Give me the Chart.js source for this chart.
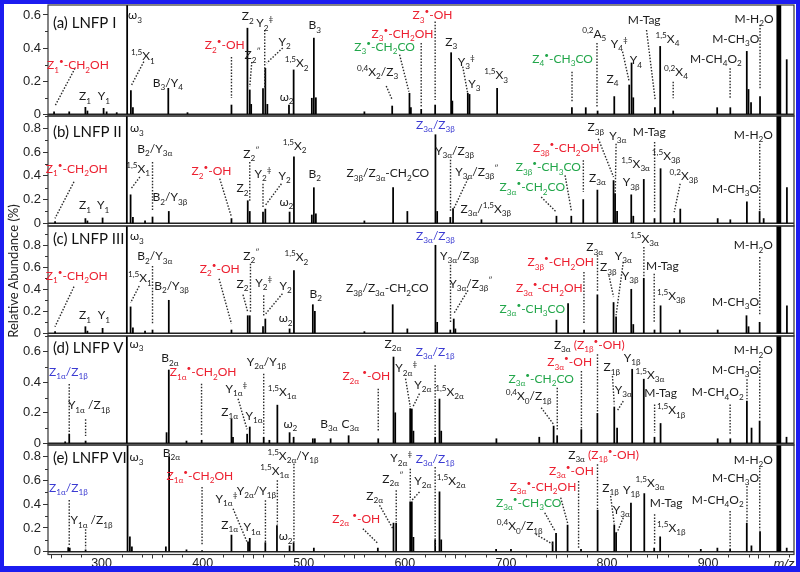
<!DOCTYPE html>
<html><head><meta charset="utf-8">
<script src="https://cdn.jsdelivr.net/npm/chart.js@4/dist/chart.umd.min.js"></script>
<style>
html,body{margin:0;padding:0;background:#fff;}
#wrap{position:relative;width:800px;height:572px;overflow:hidden;background:#fff;}
#wrap canvas{position:absolute;left:0;}
#frame{position:absolute;left:0;top:0;width:800px;height:572px;box-sizing:border-box;border-style:solid;border-color:#1c1cf0;border-width:4px 4px 6px 4px;pointer-events:none;}
#ytitle{position:absolute;left:13px;top:271px;transform:translate(-50%,-50%) rotate(-90deg);font:13px Lato, sans-serif;white-space:nowrap;color:#222;}
</style></head>
<body>
<div id="wrap">
<canvas id="pa" width="800" height="131" style="top:-5px"></canvas>
<canvas id="pb" width="800" height="130" style="top:106px"></canvas>
<canvas id="pc" width="800" height="130" style="top:216px"></canvas>
<canvas id="pd" width="800" height="129" style="top:326px"></canvas>
<canvas id="pe" width="800" height="137" style="top:435px"></canvas>
<div id="ytitle">Relative Abundance (%)</div>
<div id="frame"></div>
</div>
<script>
// ---------- DATA: peaks [m/z, relative abundance] ----------
const peaksA = [[253,0.015],[268,0.015],[284,0.042],[286,0.02],[302,0.036],[305,0.015],[315,0.01],[325.3,3],[329,0.143],[331,0.04],[366,0.157],[385,0.01],[428.5,0.056],[444.3,0.52],[446.6,0.147],[448,0.06],[459.7,0.155],[462,0.278],[464,0.06],[485.4,0.056],[490,0.268],[508,0.097],[510,0.46],[512,0.1],[560,0.015],[587.5,0.05],[604.6,0.127],[606,0.04],[616.2,0.03],[630,0.056],[645.8,0.372],[647,0.08],[662.3,0.127],[664,0.12],[691.3,0.157],[765.3,0.04],[779,0.04],[790.7,0.02],[807.2,0.107],[822,0.177],[824.3,0.31],[826,0.1],[847.4,0.04],[852.6,0.41],[865.5,0.02],[909,0.04],[922,0.04],[938.3,0.38],[940,0.15],[942.5,0.07],[951.4,0.107],[968.5,3],[969.5,3],[970.5,3],[971.5,3],[977.8,0.33]];
const peaksB = [[254,0.015],[284,0.04],[286,0.02],[301,0.045],[325,3],[328.7,0.24],[331,0.05],[343,0.02],[350.4,0.053],[366.5,0.1],[428.5,0.04],[444.6,0.19],[446.6,0.1],[459.7,0.095],[462,0.12],[486,0.095],[490.3,0.56],[508,0.07],[510,0.3],[512,0.08],[560,0.02],[588.4,0.3],[602.5,0.1],[630.3,0.746],[632,0.1],[645,0.05],[647.7,0.123],[675.8,0.03],[750,0.06],[764.7,0.06],[776.5,0.2],[790.5,0.28],[806.5,0.36],[808,0.25],[810,0.1],[824,0.24],[826,0.06],[836.4,0.37],[847,0.04],[853,0.46],[866.5,0.04],[872.5,0.12],[909.5,0.04],[922,0.03],[938.4,0.18],[951,0.1],[955,0.04],[968.5,3],[969.5,3],[970.5,3],[971.5,3],[978,0.3]];
const peaksC = [[254,0.015],[284,0.06],[286,0.02],[301,0.045],[325,3],[328.7,0.24],[331,0.05],[343,0.02],[350.4,0.03],[366.5,0.3],[428.5,0.03],[444.6,0.16],[446.6,0.16],[459.7,0.06],[462,0.13],[486,0.04],[490.3,0.57],[509,0.26],[511,0.2],[560,0.015],[588,0.26],[602.5,0.04],[630.3,0.8],[632,0.1],[645,0.03],[648.4,0.13],[650,0.04],[750,0.12],[761.5,0.27],[777.3,0.03],[790.5,0.35],[806.5,0.28],[809,0.15],[824,0.4],[826,0.08],[836.4,0.5],[847,0.03],[853,0.25],[872,0.03],[909.5,0.03],[938,0.16],[940,0.06],[951,0.1],[968.5,3],[969.5,3],[970.5,3],[971.5,3],[978,0.25]];
const peaksD = [[264,0.01],[268,0.06],[284.2,0.015],[325,3],[364.3,0.07],[366.5,0.48],[384,0.015],[399,0.02],[428.5,0.157],[430,0.04],[444,0.06],[446.6,0.107],[460.4,0.04],[466,0.02],[473.9,0.25],[486,0.07],[490,0.04],[509,0.03],[511,0.03],[526.6,0.03],[544.4,0.05],[573.7,0.03],[588.8,0.565],[590.5,0.2],[605.3,0.227],[606.9,0.225],[608.5,0.08],[630,0.04],[634.3,0.29],[636,0.08],[690.6,0.03],[733,0.04],[747.2,0.113],[750.7,0.05],[774.6,0.09],[790.5,0.196],[807.2,0.238],[810,0.1],[824.9,0.485],[836.4,0.42],[847,0.04],[853,0.13],[909.5,0.03],[922,0.03],[938.4,0.277],[943,0.1],[951,0.146],[968.5,3],[969.5,3],[970.5,3],[971.5,3],[977.6,0.04]];
const peaksE = [[267,0.034],[268.5,0.03],[284.2,0.015],[325.7,3],[328,0.126],[330,0.04],[363.6,0.04],[366.8,0.8],[384,0.015],[399.4,0.01],[428.5,0.14],[444.9,0.084],[446.6,0.113],[462,0.076],[473.5,0.22],[486,0.05],[490,0.076],[510,0.03],[573.3,0.03],[588.8,0.24],[591.4,0.24],[605.3,0.42],[606.9,0.42],[608.5,0.12],[630,0.1],[634.3,0.505],[636,0.1],[690.3,0.02],[705,0.02],[746.2,0.084],[749.6,0.155],[761,0.225],[774.3,0.02],[790.7,0.35],[807.2,0.225],[809,0.16],[823.7,0.41],[836.9,0.49],[846.7,0.03],[852.6,0.126],[892.8,0.02],[909.2,0.03],[921.8,0.02],[938.3,0.24],[942.9,0.05],[951.4,0.17],[968.5,3],[969.5,3],[970.5,3],[971.5,3],[977.8,0.03]];

// tick labels / titles
const xTickStep = 100;
const yTickStep = 0.2;
const panelTitles = ['(a) LNFP I','(b) LNFP II','(c) LNFP III','(d) LNFP V','(e) LNFP VI'];

// ---------- ANNOTATIONS: [text, colour, m/z, abundance] and leaders [mz1, v1, mz2, v2] ----------
const labelsA = [['Z_{1}^{•}-CH_{2}OH','r',276.6,0.298],['Z_{1}','k',283.6,0.111],['Y_{1}','k',302.3,0.111],['ω_{3}','k',333,0.600],['^{1,5}X_{1}','k',340.9,0.352],['B_{3}/Y_{4}','k',365.6,0.191],['Z_{2}^{•}-OH','r',421.9,0.419],['Z_{2}','k',444.6,0.594],['Y_{2}^{‡}','k',461.4,0.552],['Y_{2}','k',481.2,0.439],['Z_{2}^{″}','k',449.5,0.358],['^{1,5}X_{2}','k',493,0.310],['ω_{2}','k',483.1,0.106],['B_{3}','k',510.8,0.540],['^{0,4}X_{2}/Z_{3}','k',573,0.257],['Z_{3}^{•}-OH','r',627.4,0.600],['Z_{3}^{•}-CH_{2}OH','r',597.7,0.489],['Z_{3}^{•}-CH_{2}CO','g',580,0.409],['Z_{3}','k',645.9,0.439],['Y_{3}^{‡}','k',660.7,0.318],['Y_{3}','k',668.8,0.187],['^{1,5}X_{3}','k',690.3,0.237],['Z_{4}^{•}-CH_{3}CO','g',756.1,0.338],['^{0,2}A_{5}','k',787.4,0.489],['Y_{4}^{‡}','k',812.1,0.429],['Y_{4}','k',828.6,0.328],['Z_{4}','k',805.5,0.218],['M-Tag','k',836.8,0.570],['^{1,5}X_{4}','k',859.8,0.459],['^{0,2}X_{4}','k',868.2,0.257],['M-CH_{4}O_{2}','k',907.7,0.338],['M-CH_{3}O','k',927.4,0.459],['M-H_{2}O','k',945.5,0.580]];
const leadersA = [[273.7,0.278,253.9,0.050],[341.8,0.318,329.7,0.177],[428.5,0.346,428.5,0.098],[461.4,0.509,461.4,0.159],[479.2,0.401,463.4,0.310],[448.6,0.316,446.6,0.165],[581.6,0.171,587.6,0.086],[630,0.560,630,0.086],[616.2,0.431,616.2,0.038],[594.8,0.36,604,0.137],[657.3,0.288,662.2,0.127],[765.4,0.257,765.4,0.076],[790.1,0.431,790.1,0.046],[815.4,0.378,822,0.197],[839.1,0.509,847.7,0.086],[865.5,0.197,865.5,0.097],[921.8,0.278,921.8,0.097],[951.4,0.540,951.4,0.147]];

const labelsB = [['Z_{1}^{•}-CH_{2}OH','r',275.4,0.463],['Z_{1}','k',283.6,0.154],['Y_{1}','k',301.6,0.154],['ω_{3}','k',334.9,0.803],['B_{2}/Y_{3α}','k',352.7,0.628],['^{1,5}X_{1}','k',336.2,0.460],['B_{2}/Y_{3β}','k',367.5,0.221],['Z_{2}^{•}-OH','r',408.7,0.440],['Z_{2}^{″}','k',448.3,0.586],['Z_{2}','k',439.4,0.297],['Y_{2}^{‡}','k',459.7,0.418],['Y_{2}','k',481.2,0.404],['ω_{2}','k',482.8,0.185],['^{1,5}X_{2}','k',491,0.657],['B_{2}','k',510.8,0.418],['Z_{3β}/Z_{3α}-CH_{2}CO','k',583.2,0.424],['Z_{3α}/Z_{3β}','b',630.3,0.830],['Y_{3α}/Z_{3β}','k',649.1,0.615],['Y_{3α}/Z_{3β}^{″}','k',671.3,0.438],['Z_{3α}/^{1,5}X_{3β}','k',680.1,0.123],['Z_{3β}^{•}-CH_{2}OH','r',759.6,0.634],['Z_{3β}^{•}-CH_{3}CO','g',742,0.474],['Z_{3α}^{•}-CH_{2}CO','g',726.1,0.306],['Z_{3β}','k',788.8,0.811],['Y_{3α}','k',810.8,0.741],['Z_{3α}','k',790.6,0.384],['M-Tag','k',841.8,0.769],['^{1,5}X_{3α}','k',828.3,0.502],['Y_{3β}','k',824,0.348],['^{1,5}X_{3β}','k',858.4,0.573],['^{0,2}X_{3β}','k',876,0.404],['M-CH_{3}O','k',927.1,0.291],['M-H_{2}O','k',944.8,0.746]];
const leadersB = [[272.7,0.350,253.9,0.042],[337.9,0.390,328.7,0.286],[350.4,0.516,350.4,0.101],[416.9,0.376,428.5,0.053],[446.6,0.516,446.6,0.179],[459.7,0.333,459.7,0.137],[477.9,0.333,462.1,0.152],[645.2,0.536,645.2,0.095],[662.5,0.376,648.4,0.123],[776.6,0.531,776.6,0.264],[758.5,0.404,764.7,0.109],[734.9,0.221,749.9,0.095],[791.4,0.712,806.5,0.390],[809,0.670,808.2,0.264],[847.1,0.685,847.1,0.095],[872.4,0.333,866.5,0.095],[951.1,0.670,951.1,0.109]];

const labelsC = [['Z_{1}^{•}-CH_{2}OH','r',275.4,0.524],['Z_{1}','k',283.6,0.166],['Y_{1}','k',302.3,0.166],['ω_{3}','k',334.9,0.885],['B_{2}/Y_{3α}','k',352.7,0.703],['^{1,5}X_{1}','k',337.9,0.503],['B_{2}/Y_{3β}','k',369.2,0.436],['Z_{2}^{•}-OH','r',416.9,0.587],['Z_{2}^{″}','k',448.3,0.709],['Z_{2}','k',439.4,0.451],['Y_{2}^{‡}','k',460.4,0.460],['Y_{2}','k',482.1,0.436],['ω_{2}','k',482.1,0.139],['^{1,5}X_{2}','k',492.7,0.694],['B_{2}','k',511.8,0.360],['Z_{3β}/Z_{3α}-CH_{2}CO','k',582.6,0.412],['Z_{3α}/Z_{3β}','b',630.3,0.891],['Y_{3α}/Z_{3β}','k',654,0.709],['Y_{3α}/Z_{3β}^{″}','k',665.3,0.451],['Z_{3β}^{•}-CH_{2}OH','r',754.2,0.648],['Z_{3α}^{•}-CH_{2}OH','r',743,0.412],['Z_{3α}^{•}-CH_{3}CO','g',726.1,0.224],['Z_{3α}','k',787.8,0.785],['Z_{3β}','k',801.3,0.603],['Y_{3α}','k',816.1,0.709],['Y_{3β}','k',823,0.527],['^{1,5}X_{3α}','k',837.2,0.860],['M-Tag','k',854.8,0.618],['^{1,5}X_{3β}','k',863.5,0.345],['M-CH_{3}O','k',927.1,0.291],['M-H_{2}O','k',944.8,0.803]];
const leadersC = [[272.7,0.424,253.9,0.060],[337.2,0.430,328.7,0.278],[350.4,0.612,350.4,0.087],[416.2,0.496,428.5,0.087],[447.3,0.633,447.3,0.194],[439.9,0.351,444.6,0.194],[460.4,0.345,460.4,0.148],[478.9,0.360,462.4,0.178],[645.2,0.624,645.2,0.103],[662.5,0.391,648.4,0.178],[777.2,0.557,777.2,0.087],[790.6,0.709,790.6,0.375],[801.9,0.527,806.5,0.330],[816.1,0.648,809,0.164],[836.5,0.785,836.5,0.512],[846.7,0.542,846.7,0.103],[951.1,0.694,951.1,0.164]];

const labelsD = [['Z_{1α}/Z_{1β}','b',267.1,0.469],['Y_{1α} /Z_{1β}','k',287.5,0.251],['ω_{3}','k',334.6,0.652],['B_{2α}','k',367.5,0.559],['Z_{1α}^{•}-CH_{2}OH','r',400.4,0.467],['Y_{1α}^{‡}','k',433.4,0.358],['Z_{1α}','k',426.8,0.210],['Y_{1α}','k',450.8,0.183],['Y_{2α}/Y_{1β}','k',463.1,0.537],['^{1,5}X_{1α}','k',478.5,0.341],['ω_{2}','k',486.8,0.128],['B_{3α}','k',524.9,0.128],['C_{3α}','k',546.1,0.128],['Z_{2α} ^{•}-OH','r',561.9,0.441],['Z_{2α}','k',588.2,0.652],['Y_{2α}^{‡}','k',601.4,0.493],['Y_{2α}','k',617.8,0.384],['Z_{3α}/Z_{1β}','b',630,0.602],['^{1,5}X_{2α}','k',644.2,0.341],['[k]Z_{3α} [r](Z_{1β}^{•}-OH)','k',782.5,0.648],['Z_{3α}^{•}-OH','r',763.1,0.532],['Z_{3α}^{•}-CH_{2}CO','g',734.9,0.423],['^{0,4}X_{0}/Z_{1β}','k',722.5,0.310],['Z_{1β}','k',804.7,0.500],['Y_{3α}','k',816.1,0.354],['Y_{1β}','k',824.9,0.561],['^{1,5}X_{3α}','k',842.5,0.452],['M-Tag','k',853,0.331],['^{1,5}X_{1β}','k',863.5,0.218],['M-CH_{4}O_{2}','k',909.6,0.336],['M-CH_{3}O','k',927.1,0.485],['M-H_{2}O','k',944.8,0.611]];
const leadersD = [[268,0.388,268,0.061],[284.2,0.157,284.2,0.048],[398.9,0.390,398.9,0.052],[435,0.292,443.9,0.092],[460.4,0.456,460.4,0.063],[573.7,0.358,573.7,0.079],[600.7,0.423,605.4,0.238],[614.5,0.325,607.9,0.238],[630,0.511,630,0.052],[790.6,0.583,790.6,0.200],[774.7,0.473,774.7,0.092],[750.8,0.364,750.8,0.081],[734.9,0.233,747.2,0.124],[805.4,0.441,807.2,0.255],[816.1,0.277,810.1,0.212],[847.1,0.255,847.1,0.069],[921.8,0.255,921.8,0.059],[938.5,0.419,938.5,0.288],[951.1,0.539,951.1,0.157]];

const labelsE = [['Z_{1α}/Z_{1β}','b',267.1,0.542],['Y_{1α} /Z_{1β}','k',290,0.267],['ω_{3}','k',334.6,0.797],['B_{2α}','k',369,0.838],['Z_{1α}^{•}-CH_{2}OH','r',397.2,0.643],['Y_{1α}^{‡}','k',423.6,0.446],['Z_{1α}','k',426.8,0.227],['Y_{1α}','k',448.8,0.208],['Y_{2α}/Y_{1β}','k',453.2,0.517],['^{1,5}X_{1α}','k',471.3,0.685],['^{1,5}X_{2α}/Y_{1β}','k',489.4,0.812],['ω_{2}','k',482.1,0.132],['Z_{2α} ^{•}-OH','r',552,0.278],['Z_{2α}','k',570.1,0.475],['Z_{2α}^{″}','k',588.2,0.615],['Y_{2α}^{‡}','k',596.5,0.789],['Y_{2α}','k',617.8,0.601],['Z_{3α}/Z_{1β}','b',630,0.783],['^{1,5}X_{2α}','k',645.9,0.601],['[k]Z_{3α} [r](Z_{1β}^{•}-OH)','k',796.6,0.820],['Z_{3α}^{•}-OH','r',764.8,0.685],['Z_{3α}^{•}-CH_{2}OH','r',736.7,0.547],['Z_{3α}^{•}-CH_{3}CO','g',722.5,0.413],['^{0,4}X_{0}/Z_{1β}','k',713.7,0.216],['Z_{1β}','k',803.6,0.539],['Y_{3α}','k',814.2,0.357],['Y_{1β}','k',824.1,0.525],['^{1,5}X_{3α}','k',842.5,0.581],['M-Tag','k',858.4,0.413],['^{1,5}X_{1β}','k',863.6,0.202],['M-CH_{4}O_{2}','k',909.6,0.441],['M-CH_{3}O','k',927.1,0.623],['M-H_{2}O','k',944.8,0.778]];
const leadersE = [[268,0.435,268,0.056],[284.2,0.189,284.2,0.029],[399.4,0.545,399.4,0.054],[430.1,0.362,443.9,0.082],[462.1,0.433,462.1,0.067],[473.9,0.601,473.9,0.23],[490.3,0.741,490.3,0.082],[558.5,0.194,573.7,0.067],[575,0.391,588.2,0.194],[591.5,0.517,591.5,0.25],[605.4,0.699,605.4,0.433],[614.5,0.503,607,0.433],[630,0.713,630,0.040],[790.6,0.736,790.6,0.36],[771.9,0.595,771.9,0.034],[754.2,0.455,761.4,0.23],[738.4,0.328,748.9,0.17],[729.5,0.147,746.5,0.062],[803.6,0.469,807.2,0.23],[816.1,0.286,810.1,0.165],[847.1,0.315,847.1,0.062],[921.8,0.343,921.8,0.020],[938.5,0.553,938.5,0.25],[951.1,0.707,951.1,0.18]];

// ---------- rendering ----------
const X_MIN = 247, X_MAX = 985;
const COLORS = {k:'#1c1c1c', r:'#ec2030', g:'#22a64a', b:'#3b3bd2'};
const ANN = 'Lato, "Open Sans", sans-serif';
const TICKF = '"Liberation Sans", Arial, sans-serif';

function parseRich(str, color) {
  const runs = []; let cur = {t:'', k:'n', c:color}; let i = 0;
  const push = () => { if (cur.t) runs.push(cur); };
  while (i < str.length) {
    const ch = str[i];
    if (ch === '[' && str[i+2] === ']' && 'krgb'.includes(str[i+1])) {
      push(); color = COLORS[str[i+1]]; cur = {t:'', k:'n', c:color}; i += 3; continue;
    }
    if ((ch === '_' || ch === '^') && str[i+1] === '{') {
      push(); const end = str.indexOf('}', i);
      runs.push({t:str.slice(i+2, end), k: ch === '_' ? 'sub' : 'sup', c:color});
      cur = {t:'', k:'n', c:color}; i = end + 1; continue;
    }
    cur.t += ch; i++;
  }
  push();
  return runs;
}
function fontOf(r, size) { return (r.k === 'n' ? size : Math.round(size * 6.8) / 10) + 'px ' + ANN; }
function rich(ctx, str, x, y, size, color, align) {
  const runs = parseRich(str, color);
  let w = 0;
  for (const r of runs) { ctx.font = fontOf(r, size); r.w = ctx.measureText(r.t).width; w += r.w; }
  let cx = align === 'left' ? x : x - w / 2;
  const base = y + size * 0.36;
  ctx.textAlign = 'left'; ctx.textBaseline = 'alphabetic';
  for (const r of runs) {
    ctx.font = fontOf(r, size); ctx.fillStyle = r.c;
    const dy = r.k === 'sub' ? size * 0.28 : (r.k === 'sup' ? -size * 0.42 : 0);
    ctx.fillText(r.t, cx, base + dy);
    cx += r.w;
  }
}

function notesPlugin(labels, leaders, title, titleAt, isBottom) {
  return {
    id: 'notes',
    afterDatasetsDraw(chart) {
      const {ctx, chartArea: a} = chart; const xs = chart.scales.x, ys = chart.scales.y;
      ctx.save();
      ctx.strokeStyle = '#333'; ctx.lineWidth = 1.2;
      ctx.strokeRect(a.left, a.top, a.right - a.left, a.bottom - a.top);
      ctx.lineWidth = 1; ctx.beginPath();
      for (let k = 1; k < 10; k += 2) {
        const v = k / 10; if (v > ys.max) break;
        const py = Math.round(ys.getPixelForValue(v)) + 0.5;
        ctx.moveTo(a.left - 3, py); ctx.lineTo(a.left, py);
      }
      if (isBottom) {
        for (let m = 260; m < xs.max; m += 20) {
          if (m % 100 === 0) continue;
          const px = Math.round(xs.getPixelForValue(m)) + 0.5;
          ctx.moveTo(px, a.bottom); ctx.lineTo(px, a.bottom + 3);
        }
      }
      ctx.stroke();
      ctx.strokeStyle = '#2a2a2a'; ctx.lineWidth = 1.4; ctx.setLineDash([1.5, 1.6]);
      for (const l of leaders) {
        ctx.beginPath();
        ctx.moveTo(xs.getPixelForValue(l[0]), ys.getPixelForValue(l[1]));
        ctx.lineTo(xs.getPixelForValue(l[2]), ys.getPixelForValue(l[3]));
        ctx.stroke();
      }
      ctx.setLineDash([]);
      for (const n of labels) rich(ctx, n[0], xs.getPixelForValue(n[2]), ys.getPixelForValue(n[3]), 12, COLORS[n[1]], 'center');
      rich(ctx, title, xs.getPixelForValue(titleAt[0]), ys.getPixelForValue(titleAt[1]), 15, '#111', 'left');
      if (isBottom) {
        ctx.font = 'italic 13px ' + TICKF; ctx.fillStyle = '#222';
        ctx.textAlign = 'center'; ctx.textBaseline = 'middle';
        ctx.fillText('m/z', 784, a.bottom + 9.5);
      }
      ctx.restore();
    }
  };
}

function makePanel(id, peaks, yMin, yMax, labels, leaders, title, titleAt, isBottom) {
  return new Chart(document.getElementById(id), {
    type: 'bar',
    data: { datasets: [
      { type:'bar', data: peaks.map(p => ({x:p[0], y:p[1]})), backgroundColor:'#000', borderWidth:0, barThickness:1.1, grouped:false, clip:0 },
      { type:'line', data: [{x:X_MIN, y:0}, {x:X_MAX, y:0}], borderColor:'#222', borderWidth:1.6, pointRadius:0, clip:0 }
    ]},
    options: {
      responsive:false, animation:false, events:[],
      layout: { padding: {left:0, right:6, top:10, bottom: isBottom ? 0 : 10} },
      plugins: { legend:{display:false}, tooltip:{enabled:false} },
      scales: {
        x: { type:'linear', min:X_MIN, max:X_MAX, display:isBottom, offset:false,
             border:{display:false},
             grid:{drawOnChartArea:false, drawTicks:true, tickLength:4, color:'#333'},
             ticks:{stepSize:xTickStep, includeBounds:false, autoSkip:false, maxRotation:0, padding:-2, color:'#222', font:{family:TICKF, size:12.5}},
             afterFit: isBottom ? (s => { s.height = 17.5; }) : undefined },
        y: { type:'linear', min:yMin, max:yMax,
             border:{display:false},
             grid:{drawOnChartArea:false, drawTicks:true, tickLength:5, color:'#333'},
             ticks:{stepSize:yTickStep, includeBounds:false, padding:2, color:'#222', font:{family:TICKF, size:13},
                    callback: v => (Math.abs(v) < 1e-9 ? '0' : (+v).toFixed(1))},
             afterFit: s => { s.width = 48; } }
      }
    },
    plugins: [notesPlugin(labels, leaders, title, titleAt, isBottom)]
  });
}

makePanel('pa', peaksA, -0.0103, 0.660, labelsA, leadersA, panelTitles[0], [251.9, 0.553], false);
makePanel('pb', peaksB, -0.0227, 0.9036, labelsB, leadersB, panelTitles[1], [251.9, 0.769], false);
makePanel('pc', peaksC, -0.0245, 0.975, labelsC, leadersC, panelTitles[2], [251.9, 0.864], false);
makePanel('pd', peaksD, -0.011, 0.7027, labelsD, leadersD, panelTitles[3], [251.9, 0.629], false);
makePanel('pe', peaksE, -0.0236, 0.8985, labelsE, leadersE, panelTitles[4], [251.9, 0.795], true);
</script>
</body></html>
